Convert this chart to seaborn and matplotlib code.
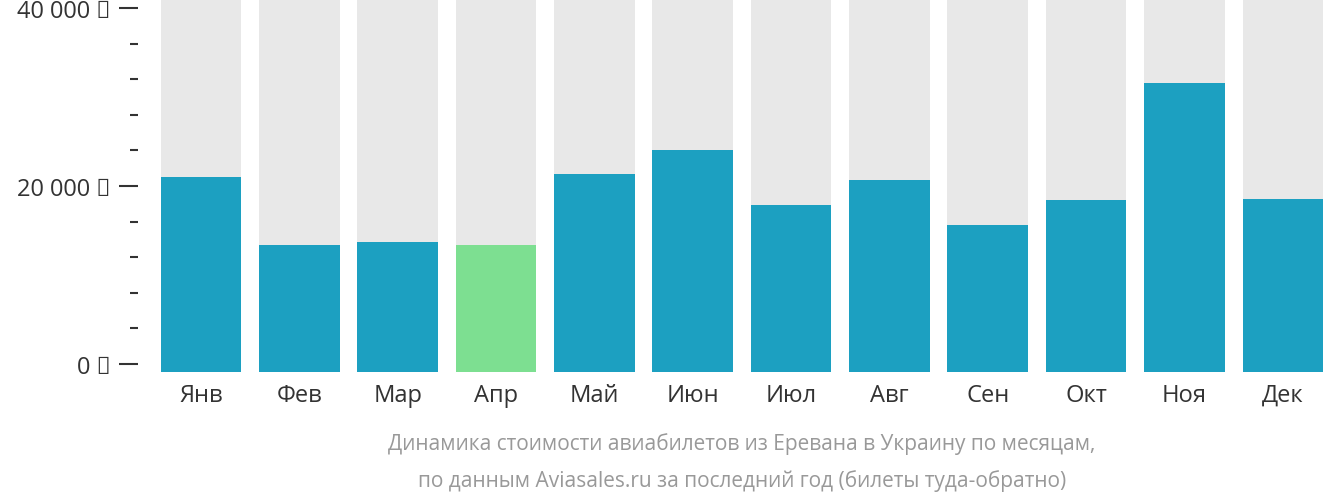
import numpy as np
import pandas as pd
import seaborn as sns
import matplotlib.pyplot as plt

months = ["Янв", "Фев", "Мар", "Апр", "Май", "Июн", "Июл", "Авг", "Сен", "Окт", "Ноя", "Дек"]
prices = [21000, 13400, 13700, 13400, 21300, 24000, 17900, 20700, 15600, 18400, 31600, 18500]
cheapest = "Апр"
major_ticks = [0, 20000, 40000]
major_labels = ["0 ₽", "20 000 ₽", "40 000 ₽"]
minor_ticks = [4000, 8000, 12000, 16000, 24000, 28000, 32000, 36000]

ymin, ymax = -900, 41000
plt.rcParams["font.family"] = "Open Sans"

df = pd.DataFrame({"month": months, "price": prices})
colors = ["#6cf087" if m == cheapest else "#00b0dd" for m in months]

fig = plt.figure(figsize=(13.32, 5.02), dpi=100)
ax = fig.add_axes([0.114, 0.257, 0.886, 0.743])

sns.barplot(x=df["month"], y=[ymax - ymin] * len(months), bottom=ymin,
            color="#e8e8e8", width=0.82, ax=ax)
sns.barplot(data=df, x="month", y=np.array(prices) - ymin, bottom=ymin,
            hue="month", palette=colors, legend=False, width=0.82, ax=ax)

ax.set_ylim(ymin, ymax)
ax.set_xlim(-0.5, len(months) - 0.5)
ax.set_yticks(major_ticks)
ax.set_yticklabels(major_labels)
ax.set_yticks(minor_ticks, minor=True)
for s in ["top", "right", "bottom"]:
    ax.spines[s].set_visible(False)
ax.spines["left"].set_position(("outward", 10))
ax.spines["left"].set_visible(False)
ax.tick_params(axis="y", which="major", length=14, width=1.5, color="#333333",
               labelsize=17, labelcolor="#333333", pad=6)
ax.tick_params(axis="y", which="minor", length=6, width=1.5, color="#333333")
ax.tick_params(axis="x", length=0, labelsize=17, labelcolor="#333333", pad=8)
ax.set_xlabel("")
ax.set_ylabel("")

fig.text(0.557, 0.115, "Динамика стоимости авиабилетов из Еревана в Украину по месяцам,",
         ha="center", va="center", fontsize=15, color="#999999")
fig.text(0.557, 0.042, "по данным Aviasales.ru за последний год (билеты туда-обратно)",
         ha="center", va="center", fontsize=15, color="#999999")

fig.savefig("out.png", dpi=100)
